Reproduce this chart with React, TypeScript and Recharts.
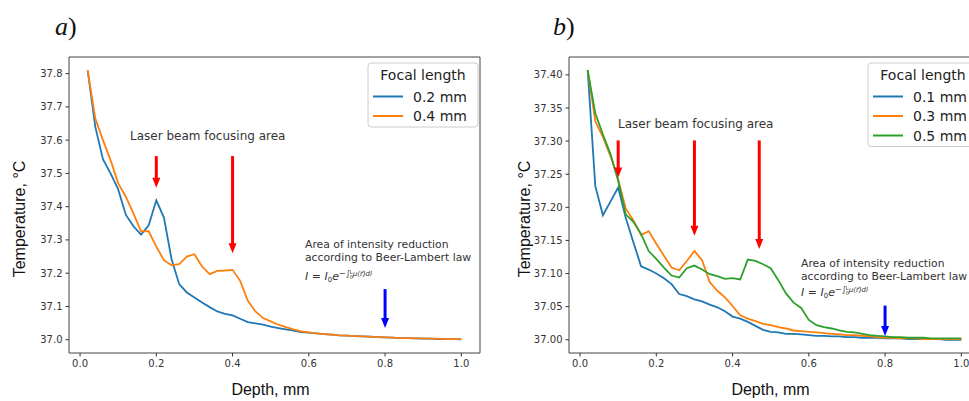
import React from "react"
import { LineChart, Line, XAxis, YAxis, ReferenceArea, ReferenceLine } from "recharts"

// depth, mm
const depth = [
  0.02, 0.04, 0.06, 0.08, 0.1, 0.12, 0.14, 0.16, 0.18, 0.2,
  0.22, 0.24, 0.26, 0.28, 0.3, 0.32, 0.34, 0.36, 0.38, 0.4,
  0.42, 0.44, 0.46, 0.48, 0.5, 0.52, 0.54, 0.56, 0.58, 0.6,
  0.62, 0.64, 0.66, 0.68, 0.7, 0.72, 0.74, 0.76, 0.78, 0.8,
  0.82, 0.84, 0.86, 0.88, 0.9, 0.92, 0.94, 0.96, 0.98, 1.0,
]

// panel a
const a02 = [
  37.81, 37.64, 37.543, 37.5, 37.452, 37.376, 37.341, 37.316, 37.344, 37.419,
  37.367, 37.242, 37.167, 37.142, 37.127, 37.112, 37.098, 37.085, 37.078, 37.073,
  37.063, 37.053, 37.049, 37.045, 37.039, 37.035, 37.031, 37.027, 37.023, 37.021,
  37.019, 37.017, 37.015, 37.013, 37.012, 37.011, 37.01, 37.009, 37.008, 37.007,
  37.006, 37.005, 37.005, 37.004, 37.003, 37.003, 37.002, 37.002, 37.002, 37.001,
]
const a04 = [
  37.81, 37.665, 37.6, 37.54, 37.47, 37.43, 37.38, 37.326, 37.326, 37.28,
  37.239, 37.224, 37.227, 37.25, 37.257, 37.22, 37.197, 37.207, 37.208, 37.21,
  37.177, 37.117, 37.085, 37.065, 37.055, 37.045, 37.038, 37.031, 37.025, 37.022,
  37.019, 37.017, 37.015, 37.013, 37.012, 37.011, 37.01, 37.009, 37.008, 37.007,
  37.006, 37.005, 37.005, 37.004, 37.004, 37.003, 37.003, 37.002, 37.002, 37.002,
]

// panel b
const b01 = [
  37.407, 37.232, 37.188, 37.209, 37.23, 37.184, 37.147, 37.111, 37.106, 37.1,
  37.093, 37.084, 37.069, 37.066, 37.061, 37.058, 37.053, 37.049, 37.043, 37.035,
  37.032, 37.027, 37.021, 37.015, 37.012, 37.011, 37.009, 37.009, 37.008, 37.007,
  37.006, 37.006, 37.005, 37.005, 37.004, 37.004, 37.003, 37.003, 37.003, 37.002,
  37.002, 37.002, 37.001, 37.001, 37.001, 37.001, 37.001, 37.0, 37.0, 37.0,
]
const b03 = [
  37.407, 37.33, 37.306, 37.277, 37.242, 37.198, 37.18, 37.158, 37.164, 37.145,
  37.127, 37.109, 37.105, 37.119, 37.134, 37.12, 37.087, 37.074, 37.064, 37.051,
  37.037, 37.032, 37.028, 37.024, 37.022, 37.019, 37.017, 37.014, 37.013, 37.012,
  37.011, 37.01, 37.009, 37.008, 37.007, 37.007, 37.006, 37.005, 37.004, 37.003,
  37.003, 37.002, 37.002, 37.002, 37.001, 37.001, 37.001, 37.001, 37.001, 37.001,
]
const b05 = [
  37.407, 37.342, 37.31, 37.28, 37.24, 37.189, 37.178, 37.16, 37.134, 37.122,
  37.109, 37.097, 37.094, 37.108, 37.112, 37.106, 37.099, 37.096, 37.092, 37.093,
  37.091, 37.121, 37.119, 37.114, 37.108, 37.09, 37.07, 37.056, 37.048, 37.03,
  37.022, 37.019, 37.017, 37.014, 37.012, 37.011, 37.009, 37.007, 37.006, 37.005,
  37.004, 37.004, 37.003, 37.003, 37.003, 37.002, 37.002, 37.002, 37.002, 37.002,
]

const xTicks = [0, 0.2, 0.4, 0.6, 0.8, 1.0]
const yTicksA = [37.0, 37.1, 37.2, 37.3, 37.4, 37.5, 37.6, 37.7, 37.8]
const yTicksB = [37.0, 37.05, 37.1, 37.15, 37.2, 37.25, 37.3, 37.35, 37.4]

const seriesA = [
  { key: "a02", name: "0.2 mm", color: "#1f77b4", values: a02 },
  { key: "a04", name: "0.4 mm", color: "#ff7f0e", values: a04 },
]
const seriesB = [
  { key: "b01", name: "0.1 mm", color: "#1f77b4", values: b01 },
  { key: "b03", name: "0.3 mm", color: "#ff7f0e", values: b03 },
  { key: "b05", name: "0.5 mm", color: "#2ca02c", values: b05 },
]

// arrows: [depth, from, to]
const redArrowsA = [[0.2, 37.552, 37.457], [0.4, 37.552, 37.26]]
const blueArrowA = [0.8, 37.152, 37.035]
const redArrowsB = [[0.1, 37.301, 37.245], [0.3, 37.301, 37.157], [0.47, 37.301, 37.137]]
const blueArrowB = [0.8, 37.0516, 37.0056]

const xDomain = [-0.029, 1.049]
const tickFont = { fontFamily: "DejaVu Sans", fontSize: 10, fill: "#333" }
const sansFont = "DejaVu Sans"

const buildRows = (series: any[]) =>
  depth.map((d, i) => {
    const row: any = { d }
    series.forEach(s => (row[s.key] = s.values[i]))
    return row
  })

const rowsA = buildRows(seriesA)
const rowsB = buildRows(seriesB)

const arrowShape = (color: string) => (p: any) => {
  const { x1, y1, x2, y2 } = p
  const head = 10
  const half = 4
  return (
    <g>
      <line x1={x1} y1={y1} x2={x2} y2={y2 - head + 1} stroke={color} strokeWidth={3} />
      <polygon points={`${x2 - half},${y2 - head} ${x2 + half},${y2 - head} ${x2},${y2}`} fill={color} />
    </g>
  )
}

const depthLabel = (shift: number) => (p: any) => {
  const vb = p.viewBox || {}
  return (
    <text x={vb.x + vb.width / 2 + shift} y={vb.y + 42} textAnchor="middle" fontFamily="Liberation Sans" fontSize={16} fill="#111">
      Depth, mm
    </text>
  )
}

const tempLabel = (x: number) => () => (
  <text x={x} y={219} transform={`rotate(-90 ${x} 219)`} textAnchor="middle" fontFamily="Liberation Sans" fontSize={16} fill="#111">
    Temperature, °C
  </text>
)

function Formula({ x, y }: { x: number, y: number }) {
  return (
    <text x={x} y={y} fontFamily={sansFont} fontSize={11} fill="#333">
      <tspan fontStyle="italic">I</tspan>
      <tspan> = </tspan>
      <tspan fontStyle="italic">I</tspan>
      <tspan fontSize={7} dy={2}>0</tspan>
      <tspan fontStyle="italic" dy={-2}>e</tspan>
      <tspan fontSize={8} dy={-4}>−∫</tspan>
      <tspan fontSize={5} dy={-2}>L</tspan>
      <tspan fontSize={5} dx={-3} dy={5}>0</tspan>
      <tspan fontSize={7} fontStyle="italic" dy={-3}>μ(r⃗)dl</tspan>
    </text>
  )
}

function LegendBox({ x, y, series }: { x: number, y: number, series: any[] }) {
  const h = 33.5 + 19.5 * (series.length - 1) + 11
  return (
    <g>
      <rect x={x} y={y} width={110} height={h} rx={3} fill="#fff" fillOpacity={0.8} stroke="#ccc" />
      <text x={x + 55} y={y + 17} textAnchor="middle" fontFamily={sansFont} fontSize={14} fill="#222">Focal length</text>
      {series.map((s, i) => (
        <g key={s.key}>
          <line x1={x + 5} x2={x + 35} y1={y + 33.5 + 19.5 * i} y2={y + 33.5 + 19.5 * i} stroke={s.color} strokeWidth={2} />
          <text x={x + 45} y={y + 38.5 + 19.5 * i} fontFamily={sansFont} fontSize={14} fill="#222">{s.name}</text>
        </g>
      ))}
    </g>
  )
}

function Panel({ rows, series, yDomain, yTicks, digits, yAxisWidth, width, labelX, redArrows, blueArrow }: any) {
  return (
    <LineChart width={width} height={401} data={rows} margin={{ top: 57, right: width - 411 - yAxisWidth, bottom: 0, left: 0 }}>
      <XAxis
        type="number" dataKey="d" domain={xDomain} ticks={xTicks} allowDataOverflow
        tickFormatter={(v: number) => v.toFixed(1)} tick={tickFont}
        tickSize={3.5} tickMargin={3} axisLine={false} tickLine={{ stroke: "#333" }}
        height={48} label={depthLabel(-4)}
      />
      <YAxis
        type="number" domain={yDomain} ticks={yTicks} allowDataOverflow
        tickFormatter={(v: number) => v.toFixed(digits)} tick={tickFont}
        tickSize={3.5} tickMargin={3} axisLine={false} tickLine={{ stroke: "#333" }}
        width={yAxisWidth} label={tempLabel(labelX)}
      />
      <ReferenceArea x1={xDomain[0]} x2={xDomain[1]} y1={yDomain[0]} y2={yDomain[1]} fill="none" stroke="#444" strokeWidth={1} ifOverflow="visible" />
      {series.map((s: any) => (
        <Line key={s.key} dataKey={s.key} name={s.name} stroke={s.color} strokeWidth={1.8} dot={false} isAnimationActive={false} type="linear" />
      ))}
      {redArrows.map((a: number[], i: number) => (
        <ReferenceLine key={"r" + i} segment={[{ x: a[0], y: a[1] }, { x: a[0], y: a[2] }]} ifOverflow="visible" shape={arrowShape("#ff0000")} />
      ))}
      <ReferenceLine segment={[{ x: blueArrow[0], y: blueArrow[1] }, { x: blueArrow[0], y: blueArrow[2] }]} ifOverflow="visible" shape={arrowShape("#0000ff")} />
    </LineChart>
  )
}

export default function App() {
  return (
    <div style={{ position: "absolute", left: 0, top: 0, width: 969, height: 401, overflow: "hidden", background: "#fff" }}>
      <div style={{ position: "absolute", left: 0, top: 0 }}>
        <Panel rows={rowsA} series={seriesA} yDomain={[36.96, 37.85]} yTicks={yTicksA} digits={1}
          yAxisWidth={69} width={490} labelX={25} redArrows={redArrowsA} blueArrow={blueArrowA} />
      </div>
      <div style={{ position: "absolute", left: 490, top: 0 }}>
        <Panel rows={rowsB} series={seriesB} yDomain={[36.98, 37.427]} yTicks={yTicksB} digits={2}
          yAxisWidth={79} width={500} labelX={40} redArrows={redArrowsB} blueArrow={blueArrowB} />
      </div>
      <svg width={969} height={401} style={{ position: "absolute", left: 0, top: 0, pointerEvents: "none" }}>
        <text x={55} y={35} fontFamily="Liberation Serif" fontSize={26} fill="#111"><tspan fontStyle="italic">a</tspan>)</text>
        <text x={553} y={35} fontFamily="Liberation Serif" fontSize={26} fill="#111"><tspan fontStyle="italic">b</tspan>)</text>

        <text x={130} y={140} fontFamily={sansFont} fontSize={12} fill="#333">Laser beam focusing area</text>
        <text x={305} y={248} fontFamily={sansFont} fontSize={10.8} fill="#333">Area of intensity reduction</text>
        <text x={305} y={261} fontFamily={sansFont} fontSize={10.8} fill="#333">according to Beer-Lambert law</text>
        <Formula x={305} y={280} />
        <LegendBox x={368} y={63} series={seriesA} />

        <text x={618} y={128} fontFamily={sansFont} fontSize={12} fill="#333">Laser beam focusing area</text>
        <text x={801} y={267} fontFamily={sansFont} fontSize={10.8} fill="#333">Area of intensity reduction</text>
        <text x={801} y={280} fontFamily={sansFont} fontSize={10.8} fill="#333">according to Beer-Lambert law</text>
        <Formula x={801} y={296} />
        <LegendBox x={868} y={63} series={seriesB} />
      </svg>
    </div>
  )
}
